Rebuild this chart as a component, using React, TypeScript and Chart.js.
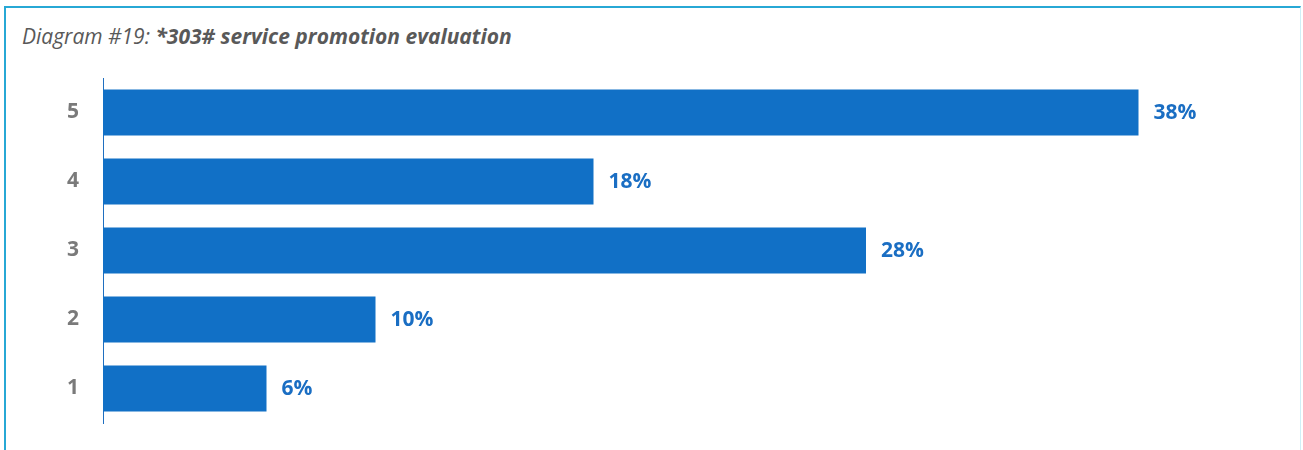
import React, { useEffect, useRef } from "react";
import { Chart, registerables } from "chart.js";

Chart.register(...registerables);

const categories = ["5", "4", "3", "2", "1"];
const values = [38, 18, 28, 10, 6];
const valueLabels = ["38%", "18%", "28%", "10%", "6%"];
const titlePrefix = "Diagram #19: ";
const titleMain = "*303# service promotion evaluation";

const BAR_COLOR = "#1170C6";
const LABEL_COLOR = "#1A6EC3";
const FONT = "'Open Sans', 'DejaVu Sans', sans-serif";

const valueLabelPlugin = {
  id: "valueLabels",
  afterDatasetsDraw(chart: any) {
    const ctx = chart.ctx;
    const meta = chart.getDatasetMeta(0);
    ctx.save();
    ctx.fillStyle = LABEL_COLOR;
    ctx.font = `bold 21px ${FONT}`;
    ctx.textAlign = "left";
    ctx.textBaseline = "middle";
    meta.data.forEach((bar: any, i: number) => {
      ctx.fillText(valueLabels[i], bar.x + 15, bar.y + 1);
    });
    ctx.restore();
  },
};

export default function App() {
  const canvasRef = useRef<HTMLCanvasElement | null>(null);

  useEffect(() => {
    document.body.style.margin = "0";
    const canvas = canvasRef.current;
    if (!canvas) return;
    const chart = new Chart(canvas, {
      type: "bar",
      data: {
        labels: categories,
        datasets: [
          {
            data: values,
            backgroundColor: BAR_COLOR,
            borderWidth: 0,
            categoryPercentage: 1,
            barPercentage: 0.667,
          },
        ],
      },
      options: {
        indexAxis: "y",
        animation: false,
        responsive: false,
        maintainAspectRatio: false,
        layout: { padding: { left: 0, top: 78, bottom: 27, right: 110 } },
        plugins: {
          legend: { display: false },
          tooltip: { enabled: false },
          title: { display: false },
        },
        scales: {
          x: { display: false, min: 0, max: 40 },
          y: {
            afterFit: (scale: any) => {
              scale.width = 103;
              scale.paddingTop = 0;
              scale.paddingBottom = 0;
            },
            grid: { display: false, drawTicks: false },
            border: { display: true, color: "#1F6FC0", width: 1 },
            ticks: {
              padding: 24,
              color: "#7A7A7A",
              font: { family: FONT, size: 21, weight: "bold" },
            },
          },
        },
      },
      plugins: [valueLabelPlugin],
    });
    return () => chart.destroy();
  }, []);

  return (
    <div style={{ position: "relative", width: 1303, height: 450, overflow: "hidden", background: "#fff" }}>
      <div
        style={{
          position: "absolute",
          left: 4,
          top: 6,
          width: 1297,
          height: 460,
          borderLeft: "2px solid #27A8D5",
          borderTop: "2px solid #27A8D5",
          borderRight: "1px solid #CFEFF7",
          boxSizing: "border-box",
        }}
      />
      <div
        style={{
          position: "absolute",
          left: 22,
          top: 22,
          fontFamily: FONT,
          fontSize: 21,
          fontStyle: "italic",
          color: "#595959",
          whiteSpace: "nowrap",
          lineHeight: "28px",
        }}
      >
        {titlePrefix}
        <span style={{ fontWeight: "bold" }}>{titleMain}</span>
      </div>
      <canvas
        ref={canvasRef}
        width={1303}
        height={450}
        style={{ position: "absolute", left: 0, top: 0, width: 1303, height: 450 }}
      />
    </div>
  );
}
